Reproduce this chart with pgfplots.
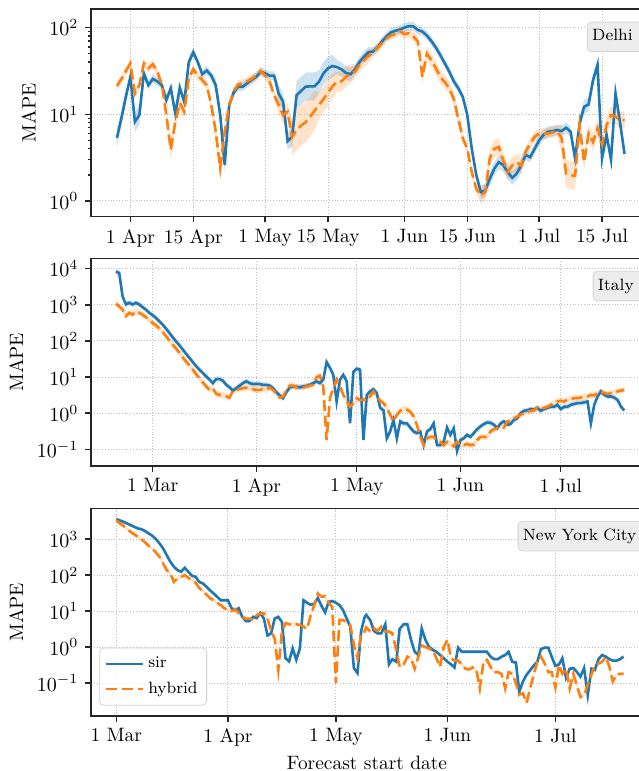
\documentclass[border=0pt]{standalone}
\usepackage{fontspec}
\usepackage{pgfplots}
\usepackage{pgfplotstable}
\pgfplotsset{compat=1.18}
\usepgfplotslibrary{fillbetween}

\definecolor{sirc}{RGB}{31,119,180}
\definecolor{hybc}{RGB}{255,127,14}

% day 0 = 1 Mar; s = sir, h = hybrid, sb/hb = band spread factor
\pgfplotstableread{
d s sb h hb
28 5.35 1.3 21.2 1.12
29 9.0 1.2 25.5 1.12
30 16.0 1.2 31.5 1.12
31 27 1.1 38.7 1.12
32 8.2 1.3 17.4 1.12
33 9.8 1.3 21.7 1.12
34 29.6 1.12 38.7 1.12
35 21.7 1.12 34 1.12
36 25.6 1.12 37.7 1.12
37 24 1.12 31 1.12
38 21.7 1.12 22 1.12
39 14.6 1.12 9.8 1.2
40 20 1.12 3.9 1.3
41 10.2 1.12 8.2 1.2
42 20.3 1.12 13.5 1.2
43 13.9 1.12 10.7 1.2
44 40 1.12 26 1.12
45 52 1.12 33 1.12
46 40 1.12 28 1.12
47 29 1.12 24.8 1.12
48 32 1.12 21.7 1.12
49 28 1.12 12.8 1.12
50 21.7 1.2 6.3 1.3
51 9.8 1.2 2.4 1.3
52 2.6 1.2 6.3 1.3
53 12.8 1.12 12.8 1.12
54 17.9 1.12 18.6 1.12
55 20.8 1.12 22 1.12
56 20.8 1.12 22.8 1.12
57 22.8 1.12 24 1.12
58 25 1.12 25.6 1.12
59 27 1.12 28 1.12
60 31 1.12 31.5 1.12
61 29.7 1.12 28 1.12
62 27.9 1.12 23.8 1.12
63 27.9 1.12 16.6 1.12
64 17.4 1.25 12.8 1.25
65 14 1.25 9.8 1.25
66 4.9 1.25 10.7 1.25
67 5.5 1.3 5.5 1.6
68 16.6 1.45 6.6 1.7
69 18.6 1.45 7.4 1.7
70 20.8 1.45 8.1 1.7
71 21 1.45 9.3 1.7
72 21 1.45 11 1.7
73 23.8 1.35 12.8 1.4
74 29.7 1.35 15 1.4
75 34 1.35 17.9 1.4
76 36 1.35 21 1.4
77 35 1.2 23.8 1.3
78 33 1.2 24 1.3
79 30 1.2 27 1.3
80 29 1.2 29.7 1.3
81 33 1.15 31 1.2
82 40 1.15 37 1.2
83 46 1.15 42 1.2
84 52 1.15 47 1.2
85 53 1.12 52 1.12
86 59 1.12 58 1.12
87 69 1.12 66 1.12
88 79 1.12 75 1.12
89 88 1.12 81 1.12
90 92 1.12 84 1.12
91 95 1.12 91 1.12
92 100 1.12 84 1.12
93 104 1.12 86 1.12
94 103 1.12 79 1.12
95 94 1.12 69 1.2
96 90 1.12 27 1.2
97 81 1.12 50 1.2
98 70 1.12 42 1.2
99 59 1.12 34 1.2
100 48 1.12 27 1.2
101 38.7 1.12 23.4 1.2
102 31 1.12 20 1.2
103 24 1.12 15 1.2
104 20 1.12 8.9 1.2
105 15.9 1.1 5.3 1.12
106 9.8 1.1 4.0 1.12
107 4.0 1.1 2.16 1.12
108 2.0 1.1 1.38 1.12
109 1.27 1.2 1.16 1.25
110 1.32 1.2 1.27 1.25
111 1.8 1.2 3.1 1.25
112 2.35 1.2 4.0 1.25
113 2.8 1.2 4.2 1.25
114 2.6 1.2 2.95 1.25
115 2.16 1.2 2.16 1.25
116 1.85 1.2 2.58 1.25
117 2.07 1.2 2.8 1.25
118 2.58 1.2 2.55 1.25
119 3.4 1.15 3.7 1.15
120 3.2 1.15 4.6 1.15
121 4.0 1.15 5.5 1.15
122 5.0 1.15 6.0 1.15
123 5.8 1.15 6.0 1.15
124 6.3 1.15 6.0 1.15
125 6.4 1.15 6.2 1.15
126 6.6 1.15 6.4 1.15
127 6.4 1.15 5.3 1.45
128 7.0 1.15 2.07 1.45
129 6.3 1.15 1.98 1.45
130 3.1 1.15 1.95 1.45
131 7.8 1.2 7.5 1.25
132 12.2 1.2 2.8 1.25
133 13 1.2 6.0 1.25
134 24.8 1.2 4.8 1.25
135 37 1.2 6.9 1.25
136 3.1 1.2 4.5 1.25
137 5.8 1.2 7.5 1.25
138 3.0 1.2 9.8 1.25
139 17.4 1.2 9.4 1.25
140 8.1 1.2 8.6 1.25
141 3.5 1.2 8.6 1.25
}\delhi

\pgfplotstableread{
d s h
-11 8300 1070
-10 7700 910
-9 1740 740
-8 1030 490
-7 1140 600
-6 1030 540
-5 1140 660
-4 1030 600
-3 860 540
-2 740 455
-1 600 390
0 520 315
1 435 274
2 350 220
3 285 178
4 220 135
5 167 104
6 127 79
7 97 62
8 76 47
9 58 35
10 44 27
11 34 21
12 26 16
13 20 12
14 16 9.3
15 13 7.1
16 10.4 5.5
17 8.5 4.4
18 6.8 4.9
19 8.8 3.4
20 8.8 3.2
21 7.9 3.2
22 6.1 2.9
23 5.2 2.7
24 4.2 4.2
25 4.9 4.4
26 5.8 4.7
27 6.8 4.9
28 7.6 5.1
29 6.8 5.1
30 6.4 4.6
31 6.4 4.4
32 6.4 4.4
33 6.1 4.7
34 6.1 4.4
35 5.8 5.1
36 4.9 4.4
37 3.8 3.5
38 3.1 2.7
39 2.6 2.9
40 3.8 4.4
41 5.2 5.8
42 5.5 5.8
43 5.4 5.1
44 5.2 5.1
45 5.5 5.1
46 5.7 5.5
47 6.1 5.8
48 6.8 6.1
49 7.6 10
50 6.8 10.9
51 8.5 5.5
52 26 0.18
53 18 2.6
54 11.5 4.9
55 2.1 8.5
56 8.5 5.5
57 11.5 3.2
58 7.6 2.1
59 0.52 1.5
60 14 1.9
61 17 2.6
62 16 2.3
63 0.18 2.4
64 3.2 2.2
65 4.0 2.9
66 4.6 4.0
67 3.6 2.9
68 1.4 2.2
69 1.2 1.9
70 0.2 1.4
71 0.31 0.9
72 0.65 0.59
73 0.2 0.9
74 0.59 1.16
75 0.52 1.3
76 0.52 1.25
77 0.40 1.1
78 0.31 0.81
79 0.28 0.47
80 0.31 0.22
81 0.13 0.13
82 0.31 0.2
83 0.36 0.22
84 0.52 0.22
85 0.13 0.18
86 0.13 0.16
87 0.16 0.13
88 0.4 0.16
89 0.25 0.14
90 0.38 0.12
91 0.089 0.16
92 0.18 0.13
93 0.2 0.13
94 0.25 0.14
95 0.22 0.13
96 0.28 0.135
97 0.36 0.18
98 0.43 0.22
99 0.5 0.22
100 0.55 0.22
101 0.54 0.31
102 0.48 0.36
103 0.38 0.38
104 0.52 0.43
105 0.59 0.4
106 0.48 0.59
107 0.5 0.59
108 0.65 0.72
109 0.72 0.8
110 1.0 0.9
111 1.16 1.0
112 1.2 1.1
113 1.3 1.15
114 1.25 1.2
115 1.4 1.4
116 1.16 1.3
117 1.3 1.4
118 1.4 1.5
119 1.5 1.7
120 1.5 1.9
121 1.7 2.1
122 1.3 2.2
123 1.5 2.1
124 1.5 2.4
125 1.7 2.4
126 1.8 2.6
127 1.9 2.6
128 1.9 2.7
129 2.0 2.9
130 2.1 2.9
131 0.52 3.2
132 1.7 3.1
133 2.9 3.6
134 4.0 4.0
135 3.2 3.6
136 2.9 3.4
137 2.9 3.6
138 2.7 3.8
139 2.3 4.0
140 1.5 4.2
141 1.2 4.4
}\italy

\pgfplotstableread{
d s h
0 3600 3360
1 3300 2720
2 3030 2350
3 2720 1890
4 2450 1600
5 2200 1350
6 1980 1160
7 1890 1000
8 1670 810
9 1440 650
10 1240 550
11 1000 425
12 760 325
13 550 210
14 360 138
15 235 111
16 170 65
17 138 81
18 124 90
19 160 100
20 124 84
21 96 72
22 90 62
23 65 44
24 59 36
25 48 29
26 38 23
27 31 20
28 25 17
29 20 14.7
30 20 12
31 20 10.6
32 12 10
33 10.6 11.4
34 12 8.6
35 6.9 6.9
36 5.3 6.2
37 5.3 6.2
38 6.9 5.6
39 6.4 7.7
40 8.8 8.6
41 6.2 8.6
42 2.1 6.2
43 2.4 2.9
44 6.2 1.7
45 6.9 0.23
46 5.0 2.7
47 0.49 4.6
48 0.4 4.3
49 0.92 4.3
50 0.44 4.3
51 0.92 4.1
52 20 3.7
53 17 3.2
54 15 7.7
55 16 14.7
56 23 31
57 14 25
58 9.2 26
59 18 17
60 19 13
61 17 0.1
62 14.7 5.6
63 10.6 5.6
64 6.2 4.9
65 3.7 4.1
66 0.26 1.15
67 0.19 0.49
68 2.7 2.4
69 6.9 2.7
69.44 7.8 3.5
70.55 5.6 2.7
71.57 2.8 3.3
72.59 2.4 2.8
73.62 2.4 3.7
74.73 4.3 2.7
75.75 0.33 2.7
76.68 0.46 2.4
77.79 0.39 0.83
78.72 3.2 0.28
79.84 4.3 0.33
80.86 4.3 0.54
81.88 1.6 0.49
82.9 0.74 0.25
83.92 0.6 0.54
84.85 3.3 1.1
85.87 1.6 1.0
86.89 1.0 0.92
88.0 0.83 0.78
88.94 0.74 0.49
89.96 0.6 0.28
90.98 0.49 1.0
92 0.39 1.6
93.02 0.33 0.49
93.95 0.27 0.42
94.97 0.96 0.42
95.99 0.74 0.33
97.01 0.74 0.25
98.04 0.74 0.24
98.96 0.74 0.27
99.99 0.74 0.25
101.0 0.74 0.071
102.03 0.74 0.39
102.96 0.74 0.44
103.98 0.54 0.28
105.0 0.46 0.2
106.02 0.46 0.2
107.04 0.54 0.18
108.06 0.6 0.071
108.99 0.74 0.2
110.01 0.39 0.18
111.03 0.37 0.1
111.96 0.057 0.048
112.98 0.11 0.052
114 0.17 0.028
115.03 0.23 0.075
116.05 0.31 0.18
116.98 0.39 0.39
118.0 0.88 0.54
119.02 0.96 0.35
120.04 0.96 0.2
120.97 0.54 0.2
121.99 0.3 0.075
123.01 0.33 0.32
123.94 0.49 0.18
124.96 0.14 0.25
125.98 0.25 0.071
127.0 0.26 0.18
128.03 0.2 0.08
128.95 0.15 0.041
129.98 0.26 0.046
131.0 0.046 0.09
132.02 0.25 0.17
132.95 0.23 0.32
133.97 0.46 0.35
134.99 0.6 0.39
136.01 0.54 0.54
137.03 0.46 0.28
137.96 0.42 0.11
138.98 0.42 0.17
140 0.46 0.18
140.93 0.54 0.18
}\nyc

\pgfplotsset{
  every axis/.append style={
    scale only axis,
    width=276pt, height=103.75pt,
    anchor=south west,
    axis line style={black!85, line width=0.8pt},
    tick pos=left,
    tick align=outside,
    major tick length=2.8pt,
    minor tick length=1.6pt,
    tick style={black!85, line width=0.7pt},
    grid=major,
    major grid style={densely dotted, black!25, line width=0.5pt},
    tick label style={font=\fontsize{9.7}{11.6}\selectfont},
    label style={font=\fontsize{9.7}{11.6}\selectfont},
    ylabel={MAPE},
  },
}
\tikzset{
  bandpath/.style={draw=none},
  sirline/.style={sirc, line width=1.3pt},
  hybline/.style={hybc, line width=1.3pt, dash pattern=on 5.5pt off 2.4pt},
  tagbox/.style={anchor=north west, yshift=-6.2pt, fill=black!7,
    draw=black!17, rounded corners=2pt, inner xsep=2.4pt, inner ysep=3.5pt,
    text height=6pt, text depth=1.8pt, align=left, text width=#1,
    font=\fontsize{8.2}{9.8}\selectfont},
}

\begin{document}
\begin{tikzpicture}

% Delhi
\begin{semilogyaxis}[at={(45.5pt,277.15pt)},
  xmin=22.23, xmax=145.12, ymin=0.659, ymax=163,
  xtick={31,45,61,75,92,106,122,136},
  xticklabels={1 Apr,15 Apr,1 May,15 May,1 Jun,15 Jun,1 Jul,15 Jul},
  ytick={1,10,100}]
\addplot[bandpath, forget plot, name path=dsu] table[x=d, y expr=\thisrow{s}*\thisrow{sb}] {\delhi};
\addplot[bandpath, forget plot, name path=dsl] table[x=d, y expr=\thisrow{s}/\thisrow{sb}] {\delhi};
\addplot[sirc, fill opacity=0.22, forget plot] fill between[of=dsu and dsl];
\addplot[sirline] table[x=d, y=s] {\delhi};
\addplot[bandpath, forget plot, name path=dhu] table[x=d, y expr=\thisrow{h}*\thisrow{hb}] {\delhi};
\addplot[bandpath, forget plot, name path=dhl] table[x=d, y expr=\thisrow{h}/\thisrow{hb}] {\delhi};
\addplot[hybc, fill opacity=0.22, forget plot] fill between[of=dhu and dhl];
\addplot[hybline] table[x=d, y=h] {\delhi};
\node[tagbox=30pt] at (rel axis cs:0.8986,1) {Delhi};
\end{semilogyaxis}

% Italy
\begin{semilogyaxis}[at={(45.5pt,152.5pt)},
  xmin=-18.43, xmax=146.58, ymin=0.0343, ymax=19300,
  xtick={0,31,61,92,122},
  xticklabels={1 Mar,1 Apr,1 May,1 Jun,1 Jul},
  ytick={0.1,1,10,100,1000,10000}, yminorticks=false]
\addplot[bandpath, forget plot, name path=isu] table[x=d, y expr=\thisrow{s}*1.18] {\italy};
\addplot[bandpath, forget plot, name path=isl] table[x=d, y expr=\thisrow{s}/1.18] {\italy};
\addplot[sirc, fill opacity=0.22, forget plot] fill between[of=isu and isl];
\addplot[sirline] table[x=d, y=s] {\italy};
\addplot[bandpath, forget plot, name path=ihu] table[x=d, y expr=\thisrow{h}*1.22] {\italy};
\addplot[bandpath, forget plot, name path=ihl] table[x=d, y expr=\thisrow{h}/1.22] {\italy};
\addplot[hybc, fill opacity=0.22, forget plot] fill between[of=ihu and ihl];
\addplot[hybline] table[x=d, y=h] {\italy};
\node[tagbox=30pt] at (rel axis cs:0.9089,1) {Italy};
\end{semilogyaxis}

% New York City
\begin{semilogyaxis}[at={(45.5pt,27.5pt)},
  xmin=-7.05, xmax=146.35, ymin=0.0121, ymax=7130,
  xtick={0,31,61,92,122},
  xticklabels={1 Mar,1 Apr,1 May,1 Jun,1 Jul},
  ytick={0.1,1,10,100,1000}, yminorticks=false,
  xlabel={Forecast start date},
  xlabel style={yshift=2.2pt},
  legend style={at={(0.015,0.05)}, anchor=south west,
    font=\fontsize{8.2}{9.8}\selectfont, draw=black!18, fill=white,
    fill opacity=0.8, text opacity=1, rounded corners=2pt,
    row sep=1.5pt, inner sep=2.5pt},
  legend cell align=left,
  legend image code/.code={\draw[#1] (0pt,0pt) -- (18.5pt,0pt);}]
\addplot[bandpath, forget plot, name path=nsu] table[x=d, y expr=\thisrow{s}*1.1] {\nyc};
\addplot[bandpath, forget plot, name path=nsl] table[x=d, y expr=\thisrow{s}/1.1] {\nyc};
\addplot[sirc, fill opacity=0.22, forget plot] fill between[of=nsu and nsl];
\addplot[sirline] table[x=d, y=s] {\nyc};
\addlegendentry{sir}
\addplot[bandpath, forget plot, name path=nhu] table[x=d, y expr=\thisrow{h}*1.12] {\nyc};
\addplot[bandpath, forget plot, name path=nhl] table[x=d, y expr=\thisrow{h}/1.12] {\nyc};
\addplot[hybc, fill opacity=0.22, forget plot] fill between[of=nhu and nhl];
\addplot[hybline] table[x=d, y=h] {\nyc};
\addlegendentry{hybrid}
\node[tagbox=64pt] at (rel axis cs:0.7730,1) {New York City};
\end{semilogyaxis}

\pgfresetboundingbox
\path[use as bounding box] (0,0) rectangle (319pt,385.5pt);
\end{tikzpicture}
\end{document}
